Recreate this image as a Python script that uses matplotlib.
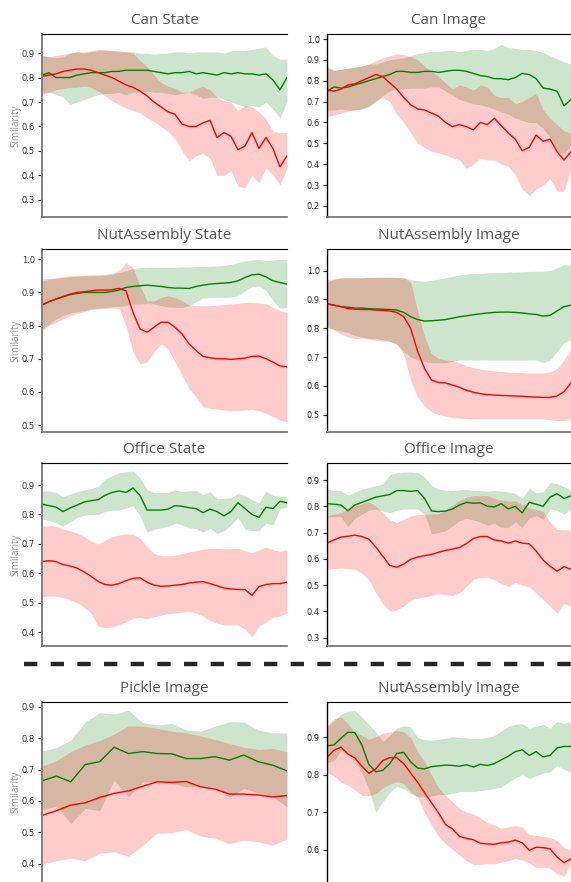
import matplotlib
matplotlib.use("Agg")
import matplotlib.pyplot as plt
import matplotlib.ticker as ticker
from matplotlib.lines import Line2D

# Similarity curves: green = matched runs, red = mismatched runs (mean with band)

can_state_green_mean = [.81, .82, .80, .80, .80, .81, .815, .82, .82, .82, .825, .825, .83, .83, .83, .83, .825, .82,
                        .815, .82, .82, .825, .815, .82, .815, .81, .82, .815, .82, .815, .815, .81, .815, .79, .75, .80]
can_state_green_lo = [.74, .74, .73, .72, .69, .70, .71, .72, .73, .735, .735, .74, .73, .74, .74, .745, .74, .74,
                      .735, .73, .735, .74, .73, .715, .72, .72, .71, .70, .69, .68, .685, .68, .70, .67, .635, .70]
can_state_green_hi = [.89, .885, .88, .885, .90, .905, .90, .905, .91, .91, .91, .905, .905, .905, .90, .90, .895, .90,
                      .90, .905, .905, .90, .905, .905, .905, .905, .90, .91, .91, .91, .915, .92, .925, .89, .875, .875]
can_state_red_mean = [.805, .81, .815, .825, .83, .835, .835, .83, .82, .81, .80, .785, .77, .76, .745, .725, .70, .68,
                      .66, .65, .61, .60, .60, .615, .625, .555, .575, .56, .505, .52, .575, .51, .555, .51, .435, .48]
can_state_red_lo = [.73, .74, .75, .755, .76, .76, .765, .76, .745, .725, .705, .69, .675, .665, .655, .635, .62, .60,
                    .58, .55, .50, .46, .48, .49, .47, .40, .40, .42, .355, .35, .40, .37, .43, .40, .36, .43]
can_state_red_hi = [.89, .885, .89, .895, .90, .905, .905, .91, .915, .915, .91, .91, .905, .90, .87, .845, .81, .78,
                    .765, .755, .74, .74, .755, .765, .75, .72, .705, .70, .665, .685, .68, .66, .63, .58, .575, .575]

can_image_green_mean = [.75, .77, .765, .77, .78, .79, .80, .81, .82, .83, .845, .845, .84, .84, .845, .845, .84, .845,
                        .85, .85, .845, .835, .825, .82, .81, .81, .805, .815, .835, .83, .81, .765, .76, .75, .68, .71]
can_image_green_lo = [.66, .66, .665, .66, .66, .665, .675, .70, .73, .75, .76, .76, .765, .765, .765, .77, .77, .75,
                      .73, .71, .70, .69, .685, .675, .665, .65, .64, .62, .61, .60, .60, .57, .53, .46, .45, .49]
can_image_green_hi = [.87, .85, .855, .86, .865, .87, .88, .88, .89, .90, .905, .91, .92, .93, .935, .94, .94, .945,
                      .945, .94, .945, .95, .95, .945, .955, .975, .96, .955, .95, .95, .945, .935, .92, .905, .89, .88]
can_image_red_mean = [.755, .75, .76, .78, .785, .80, .815, .83, .82, .79, .76, .72, .685, .665, .66, .645, .63, .60,
                      .58, .59, .58, .565, .60, .59, .62, .585, .55, .52, .465, .48, .54, .51, .52, .46, .42, .46]
can_image_red_lo = [.63, .635, .645, .655, .66, .665, .68, .705, .72, .70, .64, .60, .55, .50, .48, .46, .455, .445,
                    .43, .42, .38, .40, .43, .42, .42, .40, .39, .35, .28, .25, .28, .30, .33, .27, .27, .38]
can_image_red_hi = [.86, .85, .855, .86, .865, .87, .88, .895, .91, .92, .93, .925, .915, .90, .87, .845, .82, .79,
                    .76, .78, .77, .755, .78, .77, .73, .72, .72, .69, .70, .72, .74, .66, .62, .59, .56, .55]

nut_state_green_mean = [.862, .872, .88, .887, .893, .897, .90, .90, .90, .90, .903, .907, .915, .918, .92, .922, .92, .918,
                        .915, .913, .913, .912, .918, .922, .925, .927, .928, .93, .935, .945, .953, .955, .947, .935, .93, .925]
nut_state_green_lo = [.79, .805, .82, .83, .838, .842, .846, .85, .853, .855, .857, .858, .86, .865, .865, .867, .865, .86,
                      .856, .855, .855, .86, .872, .883, .885, .885, .885, .886, .89, .905, .918, .92, .905, .875, .852, .855]
nut_state_green_hi = [.935, .94, .942, .945, .947, .948, .95, .95, .95, .952, .955, .96, .965, .972, .975, .976, .976, .976,
                      .976, .976, .977, .977, .978, .978, .979, .98, .982, .985, .99, .995, .998, 1.0, .996, .998, 1.0, 1.0]
nut_state_red_mean = [.862, .872, .88, .887, .895, .90, .902, .905, .907, .907, .908, .912, .905, .84, .79, .78, .795, .81,
                      .81, .795, .775, .745, .725, .707, .703, .70, .70, .698, .70, .702, .707, .708, .70, .69, .678, .676]
nut_state_red_lo = [.785, .80, .81, .82, .83, .837, .842, .848, .85, .852, .853, .852, .80, .72, .685, .69, .72, .745,
                    .73, .69, .65, .61, .585, .555, .55, .548, .545, .543, .543, .545, .547, .543, .535, .525, .515, .51]
nut_state_red_hi = [.94, .942, .945, .948, .95, .952, .952, .953, .953, .955, .958, .965, .99, .975, .92, .875, .875, .885,
                    .89, .885, .875, .862, .86, .86, .86, .862, .863, .865, .867, .87, .87, .868, .866, .855, .845, .84]

nut_image_green_mean = [.885, .88, .875, .873, .87, .87, .868, .867, .866, .865, .863, .855, .84, .83, .825, .826, .828, .83,
                        .835, .84, .843, .847, .85, .853, .855, .856, .856, .855, .853, .85, .848, .842, .845, .86, .875, .88]
nut_image_green_lo = [.805, .795, .79, .785, .775, .77, .765, .765, .76, .755, .745, .72, .70, .69, .685, .68, .68, .68,
                      .685, .69, .69, .69, .69, .69, .69, .69, .69, .69, .69, .69, .69, .68, .69, .72, .75, .76]
nut_image_green_hi = [.96, .97, .975, .975, .975, .975, .977, .977, .977, .977, .976, .975, .968, .965, .963, .967, .97, .975,
                      .98, .985, .988, .99, .99, .992, .993, .993, .995, .995, .996, .997, .998, .998, 1.0, 1.01, 1.02, 1.02]
nut_image_red_mean = [.885, .88, .875, .868, .866, .865, .865, .863, .862, .86, .855, .84, .80, .72, .66, .62, .612, .61,
                      .603, .595, .585, .578, .573, .57, .568, .567, .566, .565, .564, .562, .561, .56, .56, .565, .58, .61]
nut_image_red_lo = [.805, .795, .78, .77, .765, .765, .762, .758, .755, .755, .745, .71, .62, .56, .53, .51, .50, .495,
                    .49, .488, .486, .485, .485, .485, .485, .485, .485, .485, .485, .485, .485, .485, .482, .48, .48, .485]
nut_image_red_hi = [.97, .97, .975, .975, .975, .975, .977, .977, .977, .977, .976, .975, .96, .86, .77, .71, .695, .69,
                    .688, .68, .67, .663, .658, .655, .652, .65, .648, .647, .646, .645, .645, .645, .648, .66, .69, .73]

office_state_green_mean = [.835, .83, .825, .81, .822, .832, .842, .847, .85, .865, .875, .88, .875, .89, .865, .815, .815, .815,
                           .818, .83, .828, .823, .82, .806, .818, .81, .795, .81, .84, .82, .80, .79, .825, .82, .845, .84]
office_state_green_lo = [.785, .78, .772, .76, .775, .79, .797, .80, .80, .81, .815, .815, .822, .83, .795, .74, .75, .755,
                         .76, .77, .765, .755, .752, .74, .753, .735, .745, .765, .79, .75, .745, .745, .77, .765, .82, .825]
office_state_green_hi = [.88, .88, .875, .86, .87, .877, .883, .888, .895, .92, .932, .942, .945, .948, .925, .885, .875, .875,
                         .875, .883, .878, .88, .882, .868, .878, .853, .855, .857, .872, .865, .85, .84, .88, .865, .862, .86]
office_state_red_mean = [.64, .643, .64, .63, .625, .618, .605, .59, .573, .562, .56, .565, .575, .583, .585, .57, .56, .556,
                         .557, .56, .562, .567, .57, .572, .565, .558, .55, .547, .545, .545, .525, .555, .562, .565, .565, .57]
office_state_red_lo = [.52, .523, .522, .518, .51, .50, .485, .465, .42, .415, .418, .425, .435, .447, .45, .445, .452, .458,
                       .463, .465, .468, .47, .465, .455, .44, .43, .425, .425, .425, .41, .385, .42, .435, .45, .455, .465]
office_state_red_hi = [.76, .763, .76, .75, .745, .737, .725, .71, .70, .712, .725, .73, .735, .733, .72, .69, .668, .66,
                       .66, .662, .667, .672, .677, .682, .685, .685, .683, .684, .685, .677, .67, .68, .69, .68, .675, .68]

office_image_green_mean = [.81, .808, .805, .783, .805, .815, .825, .835, .84, .845, .86, .86, .857, .86, .83, .782, .78, .782,
                           .79, .805, .815, .812, .813, .80, .798, .81, .79, .80, .775, .815, .808, .80, .835, .848, .83, .84]
office_image_green_lo = [.76, .76, .76, .722, .755, .77, .785, .79, .782, .775, .785, .79, .79, .79, .77, .695, .70, .707,
                         .725, .745, .755, .748, .74, .728, .735, .72, .72, .74, .72, .755, .765, .75, .79, .785, .77, .79]
office_image_green_hi = [.865, .86, .86, .842, .855, .865, .872, .878, .885, .92, .928, .93, .93, .928, .912, .88, .865, .862,
                         .86, .863, .865, .86, .86, .858, .86, .858, .855, .85, .83, .868, .852, .855, .89, .887, .875, .86]
office_image_red_mean = [.66, .672, .683, .686, .69, .685, .675, .645, .61, .575, .568, .58, .598, .607, .612, .617, .625, .632,
                         .637, .643, .658, .677, .685, .685, .672, .668, .66, .668, .66, .657, .63, .595, .572, .553, .57, .56]
office_image_red_lo = [.56, .563, .565, .562, .56, .545, .52, .47, .43, .40, .405, .42, .443, .45, .455, .46, .468, .463,
                       .46, .47, .495, .522, .528, .53, .52, .505, .495, .51, .50, .493, .47, .445, .42, .393, .43, .42]
office_image_red_hi = [.765, .77, .775, .79, .80, .81, .818, .80, .775, .75, .738, .75, .763, .768, .77, .77, .772, .785,
                       .805, .822, .835, .84, .84, .84, .83, .823, .82, .82, .808, .795, .788, .78, .74, .712, .71, .71]

pickle_green_mean = [.664, .679, .661, .716, .725, .771, .751, .757, .751, .75, .735, .735, .741, .73, .746, .725, .714, .696]
pickle_green_lo = [.571, .584, .528, .576, .569, .666, .613, .661, .659, .656, .645, .647, .645, .611, .64, .626, .613, .581]
pickle_green_hi = [.759, .77, .794, .852, .881, .877, .889, .849, .842, .847, .826, .822, .838, .852, .851, .826, .817, .817]
pickle_red_mean = [.554, .569, .587, .594, .611, .624, .632, .647, .661, .659, .662, .645, .638, .622, .622, .619, .613, .617]
pickle_red_lo = [.399, .41, .417, .41, .433, .438, .424, .459, .497, .499, .509, .488, .481, .463, .475, .47, .459, .479]
pickle_red_hi = [.711, .728, .757, .778, .792, .813, .839, .838, .831, .822, .817, .807, .796, .783, .771, .764, .767, .757]

nut_image2_green_mean = [.878, .88, .898, .914, .913, .88, .828, .808, .812, .83, .857, .86, .835, .818, .816, .822, .824, .826,
                         .825, .823, .827, .821, .828, .825, .83, .84, .85, .862, .867, .852, .862, .848, .852, .872, .876, .876]
nut_image2_green_lo = [.833, .838, .865, .855, .838, .805, .762, .70, .728, .752, .77, .762, .75, .742, .74, .743, .747, .747,
                       .75, .755, .755, .755, .758, .76, .763, .767, .78, .792, .80, .79, .797, .805, .808, .825, .815, .806]
nut_image2_green_hi = [.928, .945, .962, .97, .972, .955, .935, .915, .89, .905, .925, .932, .928, .90, .894, .893, .895, .898,
                       .902, .90, .899, .897, .897, .90, .905, .918, .93, .935, .937, .925, .93, .935, .925, .943, .938, .942]
nut_image2_red_mean = [.847, .866, .874, .856, .845, .823, .804, .816, .838, .846, .846, .83, .805, .78, .752, .725, .698, .667,
                       .655, .635, .63, .626, .617, .615, .614, .618, .62, .625, .618, .598, .606, .605, .602, .58, .565, .575]
nut_image2_red_lo = [.806, .797, .78, .772, .76, .745, .744, .75, .765, .775, .782, .776, .755, .74, .698, .665, .635, .615,
                     .60, .585, .57, .56, .56, .562, .562, .566, .57, .576, .572, .564, .552, .552, .55, .535, .528, .565]
nut_image2_red_hi = [.932, .95, .955, .937, .914, .906, .895, .902, .912, .915, .919, .915, .90, .862, .835, .80, .765, .745,
                     .728, .71, .70, .695, .685, .672, .666, .657, .66, .664, .66, .64, .638, .635, .632, .624, .605, .598]

titles = ["Can State", "Can Image", "NutAssembly State", "NutAssembly Image",
          "Office State", "Office Image", "Pickle Image", "NutAssembly Image"]
y_limits = [(0.23, 0.978), (0.147, 1.024), (0.479, 1.031), (0.44, 1.075),
            (0.353, 0.975), (0.268, 0.965), (0.342, 0.915), (0.513, 0.995)]

panels = [
    (can_state_green_mean, can_state_green_lo, can_state_green_hi, can_state_red_mean, can_state_red_lo, can_state_red_hi),
    (can_image_green_mean, can_image_green_lo, can_image_green_hi, can_image_red_mean, can_image_red_lo, can_image_red_hi),
    (nut_state_green_mean, nut_state_green_lo, nut_state_green_hi, nut_state_red_mean, nut_state_red_lo, nut_state_red_hi),
    (nut_image_green_mean, nut_image_green_lo, nut_image_green_hi, nut_image_red_mean, nut_image_red_lo, nut_image_red_hi),
    (office_state_green_mean, office_state_green_lo, office_state_green_hi,
     office_state_red_mean, office_state_red_lo, office_state_red_hi),
    (office_image_green_mean, office_image_green_lo, office_image_green_hi,
     office_image_red_mean, office_image_red_lo, office_image_red_hi),
    (pickle_green_mean, pickle_green_lo, pickle_green_hi, pickle_red_mean, pickle_red_lo, pickle_red_hi),
    (nut_image2_green_mean, nut_image2_green_lo, nut_image2_green_hi,
     nut_image2_red_mean, nut_image2_red_lo, nut_image2_red_hi),
]

W, H = 571, 882
fig = plt.figure(figsize=(W / 100, H / 100), dpi=100)

# pixel boxes of each row (top, bottom) and column (left, right)
rows = [(34, 217), (249, 432), (463, 646), (702, 882)]
cols = [(42, 287), (327, 571)]

for i, (title, ylim, data) in enumerate(zip(titles, y_limits, panels)):
    r, c = divmod(i, 2)
    top, bot = rows[r]
    left, right = cols[c]
    ax = fig.add_axes([left / W, 1 - bot / H, (right - left) / W, (bot - top) / H])
    gm, glo, ghi, rm, rlo, rhi = data
    x = list(range(len(gm)))
    ax.fill_between(x, glo, ghi, color="green", alpha=0.2, linewidth=0)
    ax.fill_between(x, rlo, rhi, color="red", alpha=0.2, linewidth=0)
    ax.plot(x, gm, color="green", lw=1.0)
    ax.plot(x, rm, color="red", lw=1.0)
    ax.set_xlim(0, len(gm) - 1)
    ax.set_ylim(*ylim)
    ax.yaxis.set_major_locator(ticker.MultipleLocator(0.1))
    ax.yaxis.set_major_formatter(ticker.FormatStrFormatter("%.1f"))
    ax.set_xticks([])
    ax.tick_params(axis="y", labelsize=6, colors="#333333", length=3, width=0.8, pad=2)
    ax.set_title(title, fontsize=11, color="#555555", family="Open Sans", pad=7)
    ax.spines["right"].set_visible(False)
    edge = "#777777" if c == 0 else "black"
    ax.spines["left"].set_color(edge)
    ax.spines["left"].set_linewidth(1.3 if c == 0 else 1.0)
    ax.spines["top"].set_color("black")
    ax.spines["bottom"].set_color("#777777")
    ax.spines["bottom"].set_linewidth(1.3)
    if r == 3:
        ax.spines["bottom"].set_visible(False)
    if c == 0:
        ax.set_ylabel("Similarity", fontsize=7, color="#999999", family="Open Sans")
        ax.yaxis.set_label_coords(-21 / (right - left), 0.5)

# dashed separator between the training tasks and the held-out ones
fig.add_artist(Line2D([24 / W, 1.0], [1 - 664 / H, 1 - 664 / H], transform=fig.transFigure,
                      color="#222222", lw=3.2, linestyle=(0, (3, 3))))

fig.savefig("out.png", dpi=100)
